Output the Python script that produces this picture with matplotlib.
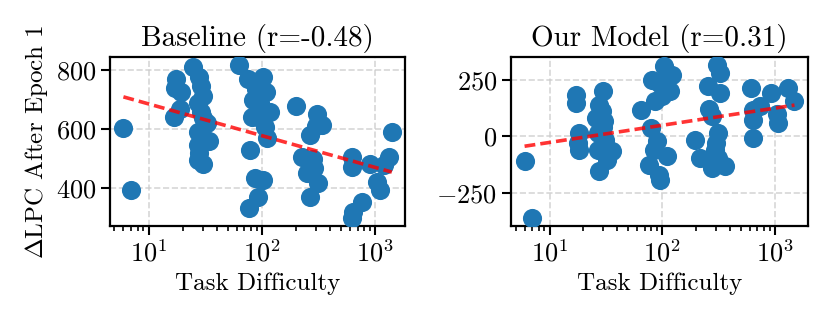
import numpy as np
import matplotlib
matplotlib.use("Agg")
from matplotlib import pyplot as plt

# data
base_x = [6, 7,
          17.5, 17, 19.5, 19, 16.6,
          24.7, 28, 29, 30, 27, 29, 30, 33, 27, 34, 27, 28, 30, 27,
          63, 75, 102, 89, 109, 84, 95, 117, 81, 98, 106, 110, 78, 87, 102, 93, 76, 95,
          199,
          303, 336, 263, 223, 283, 247, 313, 263, 300, 290,
          617, 617, 757, 640, 617, 897, 1028, 1096, 1303, 1393, 1200]
base_y = [603, 395,
          770, 740, 725, 670, 642,
          811, 778, 745, 712, 690, 660, 640, 622, 590, 560, 548, 520, 482, 495,
          819, 772, 777, 738, 727, 700, 690, 660, 642, 672, 608, 572, 530, 434, 428, 372, 335, 640,
          678,
          653, 614, 580, 507, 501, 451, 417, 372, 610, 470,
          507, 473, 355, 321, 299, 484, 423, 394, 507, 592, 480]

model_x = [6, 7,
           17.2, 17.2, 18.4, 17.8, 18.2,
           29.6, 27.7, 29, 25.8, 30.6, 26.7, 31, 26.7, 36.2, 32.6, 27.7, 30,
           64.4, 81.7, 103.5, 122, 93, 118, 87, 100, 78.9, 90, 111, 76, 93, 95, 85,
           306, 327, 257, 327, 276, 316, 197, 295, 218, 316, 276, 363, 300, 260,
           610, 644, 644, 644, 738, 933, 1072, 1312, 1500, 1050]
model_y = [-110, -360,
           184, 147, 15, -29, -59,
           199, 140, 110, 81, 66, 15, -15, -59, -66, -103, -154, 40,
           118, 250, 309, 272, 235, 199, 154, 180, 37, -22, -88, -125, -169, -191, -60,
           316, 279, 221, 191, 88, 15, -15, -59, -96, -96, -140, -132, -30, 120,
           213, 118, 74, -7, 132, 191, 59, 213, 154, 100]

titles = ['Baseline (r=-0.48)', 'Our Model (r=0.31)']

plt.rcParams['font.family'] = 'serif'
plt.rcParams['font.serif'] = ['cmr10']
plt.rcParams['mathtext.fontset'] = 'cm'
plt.rcParams['axes.formatter.use_mathtext'] = True
plt.rcParams['axes.unicode_minus'] = True


def panel(ax, x, y, title):
    x = np.asarray(x, dtype=float)
    y = np.asarray(y, dtype=float)
    ax.scatter(x, y, s=190, color='#1f77b4', zorder=3, linewidths=0)
    # linear fit in log-x
    p = np.polyfit(np.log10(x), y, 1)
    xs = np.array([x.min(), x.max()])
    ax.plot(xs, np.polyval(p, np.log10(xs)), '--', color='red', alpha=0.8,
            lw=2.6, dashes=(3, 1.4), zorder=4)
    ax.set_xscale('log')
    ax.set_title(title, fontsize=21, pad=8)
    ax.set_xlabel('Task Difficulty', fontsize=18)
    ax.grid(True, ls='--', color='#cccccc', lw=1.2, alpha=0.8, zorder=0)
    ax.tick_params(labelsize=19, width=1.5, length=6.5)
    ax.tick_params(which='minor', width=1.2, length=3.8)
    for s in ax.spines.values():
        s.set_linewidth(1.6)


fig = plt.figure(figsize=(8.27, 3.2), dpi=100)
ax1 = fig.add_axes([0.133, 0.294, 0.357, 0.528])
ax2 = fig.add_axes([0.618, 0.294, 0.359, 0.528])

panel(ax1, base_x, base_y, titles[0])
panel(ax2, model_x, model_y, titles[1])
ax1.set_yticks([400, 600, 800])
ax2.set_yticks([-250, 0, 250])
ax1.set_ylabel(r'$\Delta$LPC After Epoch 1', fontsize=18)

fig.savefig('out.png', dpi=100)
